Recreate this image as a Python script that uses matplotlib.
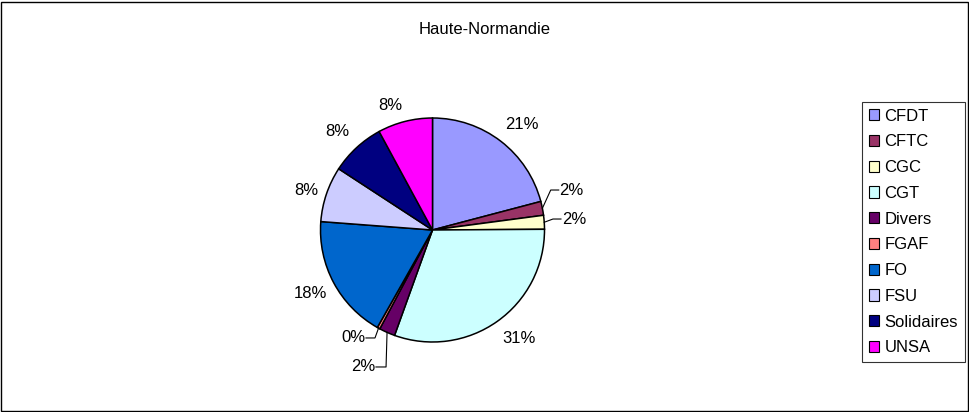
import matplotlib
matplotlib.use("Agg")
import matplotlib.pyplot as plt
import matplotlib.patches as mpatches
import numpy as np

# ---- data ----
title = "Haute-Normandie"
categories = ["CFDT", "CFTC", "CGC", "CGT", "Divers", "FGAF", "FO", "FSU", "Solidaires", "UNSA"]
values = [20.9, 2.0, 2.0, 30.6, 2.3, 0.4, 18.0, 8.0, 7.9, 7.9]
colors = ["#9999FF", "#993366", "#FFFFCC", "#CCFFFF", "#660066",
          "#FF8080", "#0066CC", "#CCCCFF", "#000080", "#FF00FF"]

# ---- layout (label offsets in radius units, leader-line side) ----
label_offsets = [(0.796, 0.946), (1.243, 0.357), (1.263, 0.098), (0.772, -0.973),
                 (-0.621, -1.223), (-0.710, -0.964), (-1.094, -0.571),
                 (-1.123, 0.357), (-0.846, 0.878), (-0.379, 1.116)]
leader = [None, "right", "right", None, "left", "left", None, None, None, None]

W, H = 970, 412
R = 112.0
cx, cy = 432.5, 230.0

plt.rcParams['font.family'] = ['Liberation Sans', 'DejaVu Sans']
fig = plt.figure(figsize=(W / 100, H / 100), dpi=100)

# axes placed so that 1 data unit = R pixels in both directions
ax_w, ax_h = 400.0, 360.0
ax = fig.add_axes([(cx - ax_w / 2) / W, (H - cy - ax_h / 2) / H, ax_w / W, ax_h / H])
wedges, _ = ax.pie(values, colors=colors, startangle=90, counterclock=False,
                   wedgeprops=dict(edgecolor="black", linewidth=1.1))
ax.set_xlim(-ax_w / 2 / R, ax_w / 2 / R)
ax.set_ylim(-ax_h / 2 / R, ax_h / 2 / R)
ax.set_aspect('auto')
ax.axis('off')

total = float(sum(values))
cum = np.cumsum([0] + values[:-1])
fs = 12
half_w = 12.0 / R   # approx half width of a "2%" label in data units
for i, v in enumerate(values):
    pct = "%d%%" % int(round(v / total * 100))
    lx, ly = label_offsets[i]
    ax.text(lx, ly, pct, ha="center", va="center", fontsize=fs, color="black")
    if leader[i]:
        mid = np.deg2rad((cum[i] + v / 2) / total * 360.0)
        ex, ey = np.sin(mid), np.cos(mid)
        if leader[i] == "right":
            edge = lx - half_w - 1.0 / R
            elbow = edge - 8.0 / R
        else:
            edge = lx + half_w + 1.0 / R
            elbow = max(edge + 9.0 / R, ex - 1.0 / R) if i == 4 else edge + 9.0 / R
        ax.plot([ex, elbow, edge], [ey, ly, ly], color="black", lw=0.8)

fig.text(0.5, 1 - 30 / H, title, ha="center", va="center", fontsize=12)

handles = [mpatches.Patch(facecolor=c, edgecolor="black", linewidth=0.8) for c in colors]
leg = fig.legend(handles, categories, loc="upper left",
                 bbox_to_anchor=(862 / W, 1 - 102 / H), borderaxespad=0,
                 fontsize=fs, frameon=True, fancybox=False, shadow=False,
                 handlelength=0.65, handleheight=0.65, handletextpad=0.3,
                 labelspacing=0.645, borderpad=0.4)
leg.get_frame().set_edgecolor("black")
leg.get_frame().set_linewidth(0.8)

fig.patches.append(mpatches.Rectangle((1.5 / W, 1.5 / H), 1 - 3.5 / W, 1 - 3 / H,
                                      transform=fig.transFigure, fill=False,
                                      edgecolor="black", linewidth=1.0))

fig.savefig("out.png", dpi=100)
